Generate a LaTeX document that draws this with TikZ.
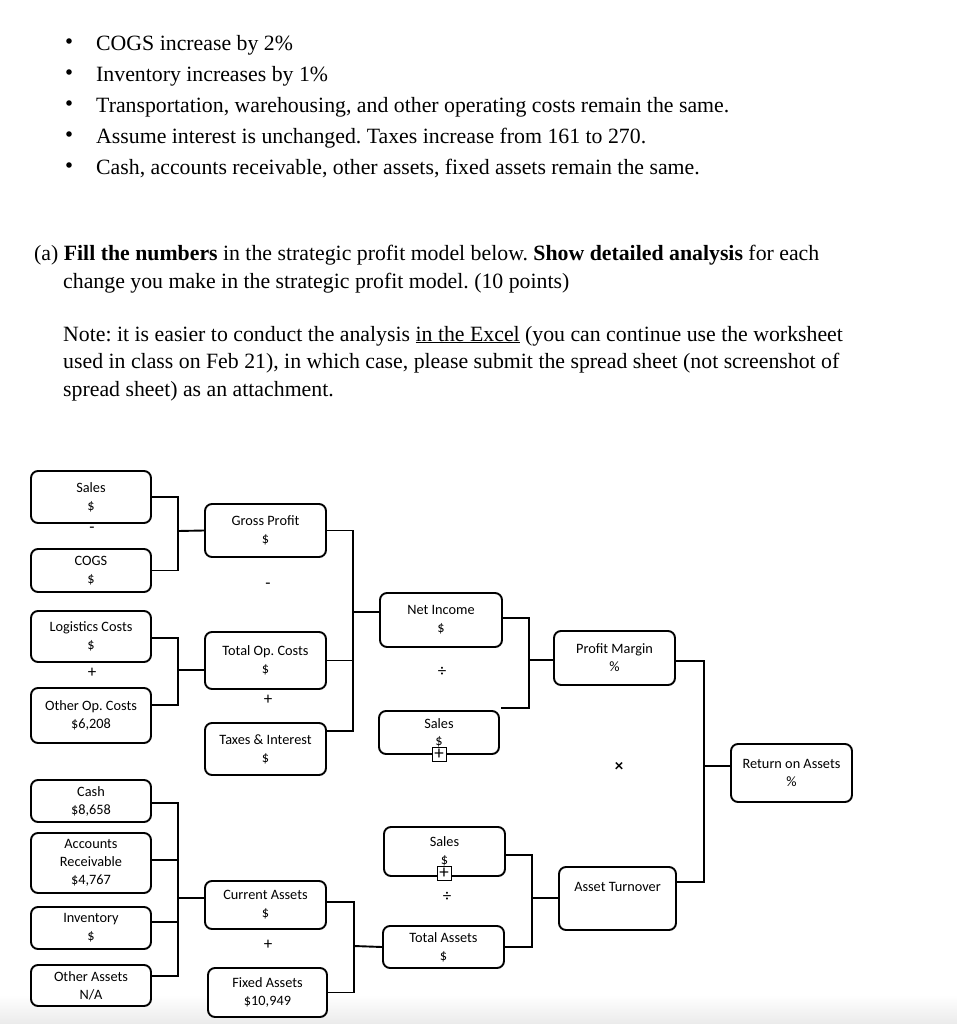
\documentclass[tikz,border=0pt]{standalone}
\usepackage{fontspec}
\setmainfont{Liberation Serif}
\newfontfamily\calfont{Carlito}
\frenchspacing
\begin{document}
\begin{tikzpicture}[x=1pt,y=-1pt,
  txt/.style={anchor=base west, inner sep=0pt, font=\fontsize{21.8}{27}\selectfont},
  box/.style={draw, line width=1.9pt, rounded corners=7pt, inner sep=0pt, align=center,
    fill=white, font=\calfont\fontsize{14.3}{18}\selectfont},
  conn/.style={line width=1.9pt},
  oper/.style={inner sep=0pt, font=\calfont\fontsize{17}{18}\selectfont},
  plusbox/.style={draw, line width=0.9pt, fill=white, minimum size=14pt, inner sep=0pt,
    font=\calfont\fontsize{19}{19}\selectfont}]
\useasboundingbox (0,0) rectangle (957,1024);
\shade[top color=white, bottom color=black!8] (0,995) rectangle (957,1024);

% ---- text ----
\foreach \yy/\t [count=\i] in {51/{COGS increase by 2\%},
  82/{Inventory increases by 1\%},
  113/{Transportation, warehousing, and other operating costs remain the same.},
  144/{Assume interest is unchanged. Taxes increase from 161 to 270.},
  175/{Cash, accounts receivable, other assets, fixed assets remain the same.}}{
  \node[txt] (b\i) at (96,\yy) {\t};
  \fill (69,\yy-10) circle (2.8);
}
\node[txt] (a1) at (34,260) {(a) \textbf{Fill the numbers} in the strategic profit model below. \textbf{Show detailed analysis} for each};
\node[txt] (a2) at (63,288) {change you make in the strategic profit model. (10 points)};
\node[txt] (n1) at (63,341) {Note: it is easier to conduct the analysis \underline{in the Excel} (you can continue use the worksheet};
\node[txt] (n2) at (63,368) {used in class on Feb 21), in which case, please submit the spread sheet (not screenshot of};
\node[txt] (n3) at (63,396) {spread sheet) as an attachment.};

% ---- boxes ----
\node[box, minimum width=120, minimum height=52] (sales) at (91,497) {Sales\\\$};
\node[box, minimum width=120, minimum height=43] (cogs) at (91,570.5) {COGS\\\$};
\node[box, minimum width=121, minimum height=53] (gp) at (265.5,530.5) {Gross Profit\\\$};
\node[box, minimum width=120, minimum height=51] (logi) at (91,636.5) {Logistics Costs\\\$};
\node[box, minimum width=120, minimum height=55] (other) at (91,715.5) {Other Op. Costs\\\$6,208};
\node[box, minimum width=121, minimum height=57] (top) at (265.5,660.5) {Total Op. Costs\\\$};
\node[box, minimum width=121, minimum height=52] (tax) at (265.5,749) {Taxes \& Interest\\\$};
\node[box, minimum width=122, minimum height=54] (ni) at (441,620) {Net Income\\\$};
\node[box, minimum width=120, minimum height=43] (sales2) at (439,732.5) {Sales\\[-1pt]\$};
\node[box, minimum width=121, minimum height=54] (pm) at (614.5,658) {Profit Margin\\\%};
\node[box, minimum width=121, minimum height=58] (roa) at (791.5,773) {Return on Assets\\\%};
\node[box, minimum width=121, minimum height=49] (sales3) at (444.5,851.5) {Sales\\\$};
\node[box, minimum width=121, minimum height=42] (ta) at (443.5,947) {Total Assets\\\$};
\node[box, minimum width=117, minimum height=63] (at) at (617.5,898.5) {Asset Turnover\\\strut};
\node[box, minimum width=120, minimum height=42] (cash) at (91,801) {Cash\\\$8,658};
\node[box, minimum width=120, minimum height=60] (ar) at (91,863) {Accounts\\Receivable\\\$4,767};
\node[box, minimum width=120, minimum height=42] (inv) at (91,928) {Inventory\\\$};
\node[box, minimum width=120, minimum height=41] (oa) at (91,985.5) {Other Assets\\N/A};
\node[box, minimum width=121, minimum height=48] (ca) at (265.5,905) {Current Assets\\\$};
\node[box, minimum width=119, minimum height=49] (fa) at (267.5,992.5) {Fixed Assets\\\$10,949};

\node[plusbox] (pb1) at (439,754) {+};
\node[plusbox] (pb2) at (444,873) {+};

% ---- operators ----
\node[oper] (o1) at (92,530) {-};
\node[oper] (o2) at (268,586) {-};
\node[oper] (o3) at (92,673) {+};
\node[oper] (o4) at (268,700) {+};
\node[oper] (o5) at (442,672) {÷};
\node[oper] (o6) at (619,767) {\textbf{×}};
\node[oper] (o7) at (447,897) {÷};
\node[oper] (o8) at (268,945) {+};

% ---- connectors ----
\coordinate (j1) at (178,531);
\draw[conn] (sales.east) -| (j1) |- (cogs.east);
\draw[conn] (j1) -- (gp.west);

\coordinate (j2) at (178,670);
\draw[conn] ([yshift=-1.5pt]logi.east) -| (j2) |- ([yshift=10.5pt]other.east);
\draw[conn] (j2) -- (j2 -| top.west);

\coordinate (j3) at (353,612);
\draw[conn] (gp.east) -| (j3) |- ([yshift=18pt]tax.east);
\draw[conn] (top.east) -- (top.east -| j3);
\draw[conn] (j3) -- (j3 -| ni.west);

\coordinate (j4) at (529,660);
\coordinate (n4) at (501,708);
\draw[conn] ([yshift=2pt]ni.east) -| (j4) |- (n4);
\draw[conn] (j4) -- (j4 -| pm.west);

\coordinate (j5) at (704,766);
\draw[conn] ([yshift=-3pt]pm.east) -| (j5) |- ([yshift=16.5pt]at.east);
\draw[conn] (j5) -- (j5 -| roa.west);

\coordinate (j6) at (532,898);
\draw[conn] ([yshift=-3.5pt]sales3.east) -| (j6) |- (ta.east);
\draw[conn] (j6) -- (j6 -| at.west);

\coordinate (j7) at (178,898);
\draw[conn] ([yshift=-2pt]cash.east) -| (j7) |- ([yshift=9.5pt]oa.east);
\draw[conn] ([yshift=3pt]ar.east) -- ([yshift=3pt]ar.east -| j7);
\draw[conn] ([yshift=6pt]inv.east) -- ([yshift=6pt]inv.east -| j7);
\draw[conn] (j7) -- (j7 -| ca.west);

\coordinate (j8) at (354,946);
\draw[conn] ([yshift=3pt]ca.east) -| (j8) |- (fa.east);
\draw[conn] (j8) -- (ta.west);
\end{tikzpicture}
\end{document}
